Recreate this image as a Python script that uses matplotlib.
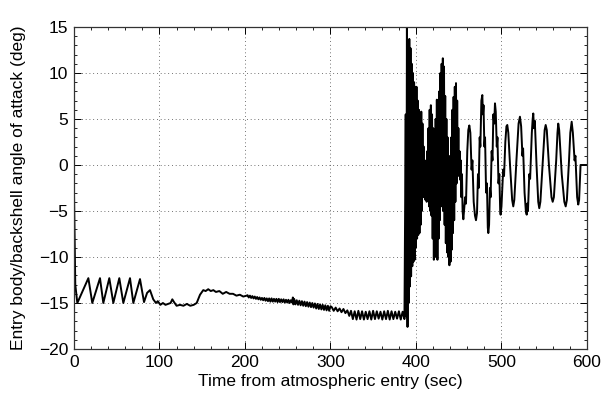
#!/usr/bin/env python

import numpy as np
import matplotlib.pyplot as plt
from matplotlib.ticker import MultipleLocator

plt.rcParams['font.family'] = ['Liberation Sans', 'DejaVu Sans']

# entry transient and sawtooth coning (sec, deg)
entry_t = [0, 1.5, 3.9, 16.8, 21.4, 30.4, 34.3, 41.3, 46.0, 53.0, 57.7, 65.5,
           69.4, 77.2, 81.9, 85.5, 88.9, 92.7, 95.9]
entry_v = [-3.0, -13.0, -15.0, -12.3, -15.0, -12.3, -15.0, -12.3, -15.0, -12.3,
           -15.0, -12.3, -15.0, -12.4, -14.9, -13.9, -13.6, -14.6, -15.0]

# slow drift 100-200 sec
drift_t = [98, 101, 104, 107, 110, 113, 115, 117, 120, 124, 128, 132, 136, 140,
           143.5, 147.4, 151.2, 154, 157, 160, 163, 166, 170, 174, 178, 182,
           186, 190, 194, 198, 202]
drift_v = [-14.8, -15.2, -15.0, -15.2, -15.1, -15.0, -14.6, -14.9, -15.3, -15.2,
           -15.3, -15.1, -15.3, -15.2, -15.0, -14.1, -13.6, -13.7, -13.5, -13.7,
           -13.6, -13.8, -13.7, -14.0, -13.8, -14.0, -14.0, -14.2, -14.1, -14.3,
           -14.2]

# small fast wiggle, 203-255 sec
wig1_span = (203, 255)
wig1_v = [-14.15, -14.4, -14.2, -14.45, -14.25, -14.5, -14.3, -14.55, -14.35,
          -14.6, -14.4, -14.65, -14.45, -14.7, -14.45, -14.75, -14.5, -14.8,
          -14.5, -14.85, -14.5, -14.85, -14.55, -14.85, -14.55, -14.9, -14.55,
          -14.9, -14.6, -14.9, -14.6, -14.95, -14.65, -14.95, -14.65, -15.0,
          -14.7, -14.95]

kick_t = [256.0, 256.6]
kick_v = [-14.4, -15.15]

# growing oscillation, 257.5-300 sec
wig2_span = (257.5, 300)
wig2_v = [-14.55, -15.15, -14.7, -15.2, -14.75, -15.25, -14.8, -15.3, -14.85,
          -15.35, -14.9, -15.4, -14.95, -15.45, -15.0, -15.5, -15.05, -15.6,
          -15.1, -15.65, -15.15, -15.7, -15.2, -15.75, -15.25, -15.8, -15.3,
          -15.85, -15.35]

wig3_span = (301.5, 322)
wig3_v = [-15.45, -15.85, -15.5, -15.9, -15.6, -16.0, -15.65, -16.1, -15.8,
          -16.4]

wig4_span = (324, 386.5)
wig4_v = [-15.85, -16.75, -15.9, -16.8, -15.85, -16.75, -15.9, -16.8, -15.95,
          -16.75, -15.9, -16.8, -15.85, -16.75, -15.9, -16.7, -15.95, -16.8,
          -15.9, -16.75, -15.85, -16.8, -15.9, -16.75, -15.95, -16.7, -15.9,
          -16.8, -15.95, -16.75]

# parachute deploy: dense band, upper/lower extremes of the fast oscillation
dense_t = [388.0, 389.4, 390.8, 392.2, 393.6, 395.0, 396.4, 397.8, 399.2, 400.6,
           402.0, 403.4, 404.8, 406.2, 407.6, 409.0, 410.4, 411.8, 413.2, 414.6,
           416.0, 417.4, 418.8, 420.2, 421.6, 423.0, 424.4, 425.8, 427.2, 428.6,
           430.0, 431.4, 432.8, 434.2, 435.6, 437.0, 438.4, 439.8, 441.2, 442.6,
           444.0, 445.4, 446.8, 448.2, 449.6, 451.0, 452.4, 453.8]
dense_hi = [5.5, 15.0, 13.5, 13.7, 12.7, 11.0, 10.0, 9.0, 8.5, 8.5,
            7.0, 6.0, 5.5, 5.8, 4.5, 2.0, 0.5, -0.5, 1.5, 4.0,
            6.0, 6.5, 5.5, 4.0, 3.8, 5.0, 7.1, 6.0, 8.0, 10.0,
            11.0, 11.6, 10.7, 7.5, 5.0, 3.0, 1.0, 0.0, 3.0, 6.0,
            7.4, 8.5, 8.9, 7.0, 4.0, 1.5, 0.5, -1.0]
dense_lo = [-16.5, -17.6, -15.0, -13.2, -12.1, -11.0, -10.5, -10.3, -9.0, -8.0,
            -7.6, -7.4, -6.5, -5.0, -3.5, -3.0, -3.8, -4.0, -3.0, -4.5,
            -5.0, -5.5, -8.0, -10.3, -10.0, -9.5, -10.3, -8.0, -6.0, -4.5,
            -4.0, -5.0, -6.5, -8.5, -9.5, -10.0, -10.9, -10.5, -9.2, -7.4,
            -6.0, -4.0, -2.0, -1.0, -1.2, -1.6, -3.5, -5.0]

# settling oscillation under the chute
tail_t = [455.4, 457.5, 458.5, 460.0, 461.2, 462.4, 463.6, 465.0, 466.0, 467.5,
          469.0, 470.2, 471.4, 472.5, 473.3, 474.5, 475.3, 476.5, 477.6, 478.3,
          479.0, 480.0, 480.8, 482.0, 483.0, 484.0, 484.6, 485.5, 486.5, 487.3,
          488.5, 489.5, 490.5, 491.5, 492.4, 493.3, 494.5, 495.3, 496.5, 497.5,
          498.5, 499.0, 500.0, 502.0, 503.0, 504.5, 505.8, 506.8, 508.0, 510.0,
          512.5, 513.8, 515.0, 517.5, 520.0, 521.6, 523.0, 524.5, 525.3, 527.0,
          528.5, 529.5, 530.2, 531.0, 532.5, 533.5, 535.5, 536.5, 537.2, 538.0,
          539.0, 541.0, 543.0, 544.2, 545.5, 548.0, 550.5, 551.7, 553.0, 555.5,
          558.5, 559.9, 561.3, 564.0, 565.5, 566.4, 567.5, 570.5, 573.5, 575.1,
          576.5, 579.0, 580.5, 582.1, 583.5, 585.5, 586.5, 588.5, 589.8, 590.8,
          592.5, 600.0]
tail_v = [-5.9, -3.5, -4.2, 1.5, 3.8, 4.3, 3.5, -0.5, 0.5, -4.0,
          -5.5, -6.0, -5.2, -1.0, -2.5, 3.0, 2.0, 7.0, 7.6, 5.5,
          6.5, 2.0, 3.0, -3.0, -2.0, -6.8, -7.4, -6.5, -2.5, -3.5,
          1.5, 0.5, 5.5, 4.5, 6.7, 5.8, 2.0, 3.0, -2.0, -1.0,
          -5.0, -5.4, -4.5, -0.5, -1.2, 2.5, 4.2, 4.35, 3.5, 0.0,
          -3.8, -4.5, -3.8, 0.5, 4.5, 5.25, 4.2, 1.0, 1.8, -3.0,
          -5.0, -5.4, -4.2, -5.0, -1.0, -1.5, 3.5, 5.0, 5.6, 4.0,
          4.8, 0.0, -4.0, -4.7, -4.0, 0.0, 3.8, 4.35, 3.8, 0.0,
          -3.5, -4.0, -3.5, 0.5, 3.5, 4.5, 3.8, -1.0, -4.0, -4.5,
          -3.8, 0.5, 3.5, 4.7, 3.5, 0.5, 1.0, -3.5, -4.3, -3.8,
          0.0, 0.0]


def main():
    pieces_t = [entry_t, drift_t]
    pieces_v = [entry_v, drift_v]
    for span, vals in [(wig1_span, wig1_v)]:
        pieces_t.append(np.linspace(span[0], span[1], len(vals)))
        pieces_v.append(vals)
    pieces_t.append(kick_t)
    pieces_v.append(kick_v)
    for span, vals in [(wig2_span, wig2_v), (wig3_span, wig3_v), (wig4_span, wig4_v)]:
        pieces_t.append(np.linspace(span[0], span[1], len(vals)))
        pieces_v.append(vals)

    # interleave band extremes: high at knot, low half a step later
    dt = np.asarray(dense_t)
    band_t = np.column_stack((dt, dt + 0.7)).ravel()
    band_v = np.column_stack((dense_hi, dense_lo)).ravel()
    pieces_t.append(band_t)
    pieces_v.append(band_v)
    pieces_t.append(tail_t)
    pieces_v.append(tail_v)

    t = np.concatenate([np.asarray(p, float) for p in pieces_t])
    v = np.concatenate([np.asarray(p, float) for p in pieces_v])

    fig = plt.figure(figsize=(6.06, 3.94), dpi=100)
    ax = fig.add_axes([0.1221, 0.1142, 0.8465, 0.8173])
    ax.plot(t, v, color='k', lw=1.4)

    ax.set_xlim(0, 600)
    ax.set_ylim(-20, 15)
    ax.set_xticks(np.arange(0, 601, 100))
    ax.set_yticks(np.arange(-20, 16, 5))
    ax.xaxis.set_minor_locator(MultipleLocator(20))
    ax.yaxis.set_minor_locator(MultipleLocator(1))
    ax.tick_params(which='both', direction='in', top=True, right=True,
                   labelsize=12.5, colors='k')
    ax.tick_params(which='major', length=5, width=0.7, pad=4)
    ax.tick_params(which='minor', length=2.5, width=0.6)
    ax.grid(True, which='major', color='#444444', lw=0.6, linestyle=(0, (1, 3.5)))
    for s in ax.spines.values():
        s.set_linewidth(0.9)
        s.set_color('#333333')

    ax.set_xlabel('Time from atmospheric entry (sec)', fontsize=12.5, labelpad=3)
    ax.set_ylabel('Entry body/backshell angle of attack (deg)', fontsize=12.5,
                  labelpad=9)

    fig.savefig('out.png', dpi=100)


if __name__ == "__main__":
    main()
